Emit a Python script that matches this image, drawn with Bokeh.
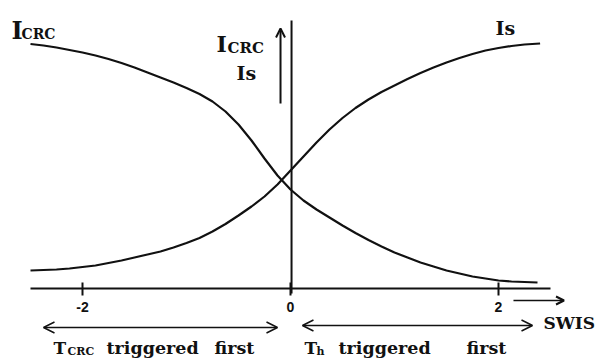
from bokeh.plotting import figure
from bokeh.models import Range1d, LinearAxis, FixedTicker, Label, Arrow, OpenHead
from bokeh.embed import file_html
from bokeh.resources import INLINE

# SWIS position (x) and current levels above the axis (arbitrary units)
x_crc = [-2.5, -2.375, -2.25, -2.125, -2.0, -1.875, -1.75, -1.625, -1.5, -1.375,
         -1.25, -1.125, -1.0, -0.875, -0.75, -0.625, -0.5, -0.375, -0.25, -0.125,
         0.0, 0.125, 0.25, 0.375, 0.5, 0.625, 0.75, 0.875, 1.0, 1.125,
         1.25, 1.375, 1.5, 1.625, 1.75, 1.875, 2.0, 2.125, 2.25, 2.375]
i_crc = [244.5, 243, 241, 238.5, 236, 233, 229.5, 225.5, 221, 216,
         211, 206, 200.5, 194.5, 187, 177, 164, 148, 130, 113,
         99, 88, 79, 71, 63, 55.5, 48.5, 42, 36, 31,
         26, 22, 18, 15, 12, 10, 8, 7, 6.5, 6]

x_s = [-2.5, -2.375, -2.25, -2.125, -2.0, -1.875, -1.75, -1.625, -1.5, -1.375,
       -1.25, -1.125, -1.0, -0.875, -0.75, -0.625, -0.5, -0.375, -0.25, -0.125,
       0.0, 0.125, 0.25, 0.375, 0.5, 0.625, 0.75, 0.875, 1.0, 1.125,
       1.25, 1.375, 1.5, 1.625, 1.75, 1.875, 2.0, 2.125, 2.25, 2.4]
i_s = [18, 18.5, 19, 20, 21.5, 23, 25.5, 28, 31, 34,
       37, 41, 45.5, 50.5, 57, 64.5, 73, 82, 92, 104,
       118, 132, 146, 159, 170.5, 180.5, 189, 196.5, 203, 209.5,
       215.5, 221, 226, 230.5, 234.5, 238, 240.5, 242.5, 244, 245]

tick_values = [-2, 0, 2]
tick_labels = {-2: "-2", 0: "0", 2: "2"}
axis_bounds = (-2.5, 2.5)

SERIF = "DejaVu Serif"
INK = "#111111"

p = figure(width=604, height=358, output_backend="svg", toolbar_location=None,
           x_axis_type=None, y_axis_type=None, min_border=0,
           x_range=Range1d(-290 / 104, 314 / 104), y_range=Range1d(-70, 288))
p.outline_line_color = None
p.background_fill_color = "white"

# horizontal SWIS axis drawn through zero current
xaxis = LinearAxis(fixed_location=0, ticker=FixedTicker(ticks=tick_values), bounds=axis_bounds)
xaxis.major_label_overrides = tick_labels
xaxis.axis_line_width = 2
xaxis.axis_line_color = INK
xaxis.major_tick_line_width = 2
xaxis.major_tick_line_color = INK
xaxis.major_tick_in = 6
xaxis.major_tick_out = 7
xaxis.minor_tick_line_color = None
xaxis.major_label_text_font = "Liberation Sans"
xaxis.major_label_text_font_style = "bold"
xaxis.major_label_text_font_size = "14px"
xaxis.major_label_text_color = INK
xaxis.major_label_standoff = 6
p.add_layout(xaxis, "below")

# vertical line at SWIS = 0
p.segment(x0=[0.01], y0=[-5], x1=[0.01], y1=[268], line_width=2, line_color=INK)

# current curves
p.line(x_crc, i_crc, line_width=2.2, line_color=INK, line_join="round")
p.line(x_s, i_s, line_width=2.2, line_color=INK, line_join="round")

# arrows
p.add_layout(Arrow(end=OpenHead(size=9, line_width=2, line_color=INK),
                   x_start=-0.096, y_start=185, x_end=-0.096, y_end=260,
                   line_width=2, line_color=INK))
p.add_layout(Arrow(end=OpenHead(size=8, line_width=2, line_color=INK),
                   x_start=2.144, y_start=-12, x_end=2.63, y_end=-12,
                   line_width=1.5, line_color=INK))
p.add_layout(Arrow(start=OpenHead(size=11, line_width=1.5, line_color=INK),
                   end=OpenHead(size=11, line_width=1.5, line_color=INK),
                   x_start=-2.375, y_start=-39, x_end=-0.125, y_end=-39,
                   line_width=1.5, line_color=INK))
p.add_layout(Arrow(start=OpenHead(size=11, line_width=1.5, line_color=INK),
                   end=OpenHead(size=11, line_width=1.5, line_color=INK),
                   x_start=0.115, y_start=-37, x_end=2.327, y_end=-37,
                   line_width=1.5, line_color=INK))


def label(x_px, base_px, text, size, bold=True):
    p.add_layout(Label(x=x_px, y=358 - base_px, x_units="screen", y_units="screen",
                       text=text, text_font=SERIF, text_font_size=f"{size}px",
                       text_font_style="bold" if bold else "normal",
                       text_color=INK, text_baseline="alphabetic", text_align="left"))


# curve names
label(11, 30, "I", 24)
label(21, 33, "CRC", 14)
label(495, 27, "I", 19)
label(504, 27, "s", 19)

# vertical axis name
label(216, 43, "I", 22)
label(227, 47, "CRC", 15)
label(236, 72, "I", 19)
label(245, 72, "s", 19)

# horizontal axis name
label(543, 322, "SWIS", 17)

# regions
label(53, 347, "T", 17)
label(67, 351, "CRC", 11)
label(106, 347, "triggered", 17.5)
label(214, 347, "first", 17.5)
label(304, 347, "T", 17)
label(316, 351, "h", 11)
label(338, 347, "triggered", 17.5)
label(466, 347, "first", 17.5)

open("out.html", "w").write(file_html(p, INLINE))
